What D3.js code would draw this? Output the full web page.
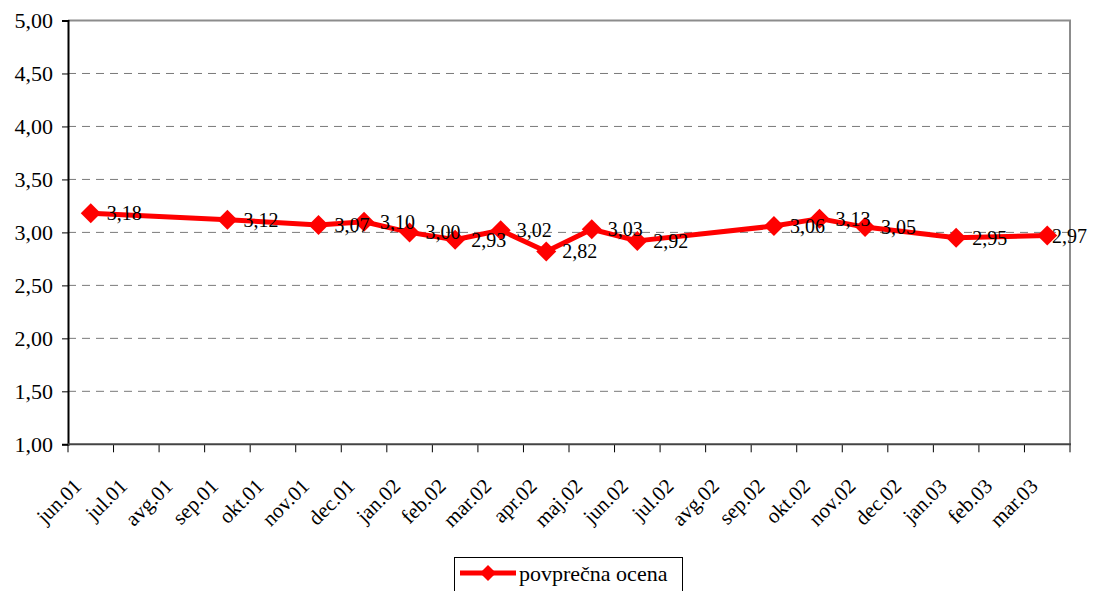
<!DOCTYPE html>
<html>
<head>
<meta charset="utf-8">
<script src="https://cdn.jsdelivr.net/npm/d3@7"></script>
<style>
  html, body { margin: 0; padding: 0; background: #fff; }
  svg { display: block; }
  text { font-family: "Liberation Serif", "Times New Roman", serif; fill: #000; }
</style>
</head>
<body>
<svg id="chart" width="1093" height="591"></svg>
<script>
const categories = ["jun.01","jul.01","avg.01","sep.01","okt.01","nov.01","dec.01","jan.02","feb.02","mar.02","apr.02","maj.02","jun.02","jul.02","avg.02","sep.02","okt.02","nov.02","dec.02","jan.03","feb.03","mar.03"];
const values = [3.18, null, null, 3.12, null, 3.07, 3.10, 3.00, 2.93, 3.02, 2.82, 3.03, 2.92, null, null, 3.06, 3.13, 3.05, null, 2.95, null, 2.97];
const yTicks = [1.00, 1.50, 2.00, 2.50, 3.00, 3.50, 4.00, 4.50, 5.00];
const seriesName = "povprečna ocena";

const svg = d3.select("#chart");
const pLeft = 68, pRight = 1070, pTop = 20.5, pBottom = 444.3;

const x = d3.scaleBand().domain(categories).range([pLeft, pRight]).padding(0);
const y = d3.scaleLinear().domain([1, 5]).range([pBottom, pTop]);
const fmt = v => d3.format(".2f")(v).replace(".", ",");

// gridlines
svg.append("g").selectAll("line")
  .data(yTicks.filter(t => t > 1 && t < 5))
  .join("line")
  .attr("x1", pLeft).attr("x2", pRight)
  .attr("y1", d => y(d)).attr("y2", d => y(d))
  .attr("stroke", "#7a7a7a").attr("stroke-width", 1)
  .attr("stroke-dasharray", "8,6");

// top & right border
svg.append("line").attr("x1", pLeft).attr("x2", pRight + 1).attr("y1", pTop).attr("y2", pTop)
  .attr("stroke", "#8c8c8c").attr("stroke-width", 2);
svg.append("line").attr("x1", pRight).attr("x2", pRight).attr("y1", pTop).attr("y2", pBottom)
  .attr("stroke", "#8c8c8c").attr("stroke-width", 2);

// y axis
const yAxis = d3.axisLeft(y).tickValues(yTicks).tickFormat(fmt).tickSize(6).tickPadding(9);
const gy = svg.append("g").attr("transform", `translate(${pLeft},0)`).call(yAxis);
gy.select(".domain").attr("stroke", "#000").attr("stroke-width", 2);
gy.selectAll(".tick line").attr("stroke", "#000");
gy.selectAll(".tick text").style("font-size", "22px").style("font-family", "Liberation Serif");

// x axis
const boundaries = categories.map((c, i) => pLeft + i * x.bandwidth()).concat([pRight]);
svg.append("g").selectAll("line").data(boundaries).join("line")
  .attr("x1", d => d).attr("x2", d => d).attr("y1", pBottom).attr("y2", pBottom + 8)
  .attr("stroke", "#000").attr("stroke-width", 1);
svg.append("line").attr("x1", pLeft).attr("x2", pRight + 1).attr("y1", pBottom).attr("y2", pBottom)
  .attr("stroke", "#444").attr("stroke-width", 2);

svg.append("g").selectAll("text").data(categories).join("text")
  .attr("transform", d => `translate(${x(d) + x.bandwidth() / 2 - 8},${pBottom + 43}) rotate(-45)`)
  .attr("text-anchor", "end")
  .style("font-size", "21px")
  .text(d => d);

// line
const pts = categories.map((c, i) => ({ c, v: values[i] })).filter(d => d.v !== null);
const line = d3.line().x(d => x(d.c) + x.bandwidth() / 2).y(d => y(d.v));
svg.append("path").datum(pts).attr("d", line)
  .attr("fill", "none").attr("stroke", "#ff0000").attr("stroke-width", 5)
  .attr("stroke-linejoin", "round");

const diamond = r => `M0,${-r}L${r},0L0,${r}L${-r},0Z`;
svg.append("g").selectAll("path").data(pts).join("path")
  .attr("transform", d => `translate(${x(d.c) + x.bandwidth() / 2},${y(d.v)})`)
  .attr("d", diamond(10)).attr("fill", "#ff0000");

const labelMaxRight = 1087;
svg.append("g").selectAll("text").data(pts).join("text")
  .attr("x", d => x(d.c) + x.bandwidth() / 2 + 16)
  .attr("y", d => y(d.v))
  .attr("dy", "0.35em")
  .style("font-size", "20px")
  .text(d => fmt(d.v))
  .each(function () {
    const el = d3.select(this);
    const w = this.getComputedTextLength();
    const x0 = +el.attr("x");
    if (x0 + w > labelMaxRight) el.attr("x", labelMaxRight - w);
  });

// legend
const lg = svg.append("g");
lg.append("rect").attr("x", 454.5).attr("y", 557.5).attr("width", 228).attr("height", 40)
  .attr("fill", "#fff").attr("stroke", "#000").attr("stroke-width", 1);
lg.append("line").attr("x1", 460).attr("x2", 516).attr("y1", 573).attr("y2", 573)
  .attr("stroke", "#ff0000").attr("stroke-width", 5);
lg.append("path").attr("transform", "translate(488,573)").attr("d", diamond(8)).attr("fill", "#ff0000");
lg.append("text").attr("x", 519).attr("y", 573).attr("dy", "0.35em")
  .style("font-size", "22px").text(seriesName);
</script>
</body>
</html>
